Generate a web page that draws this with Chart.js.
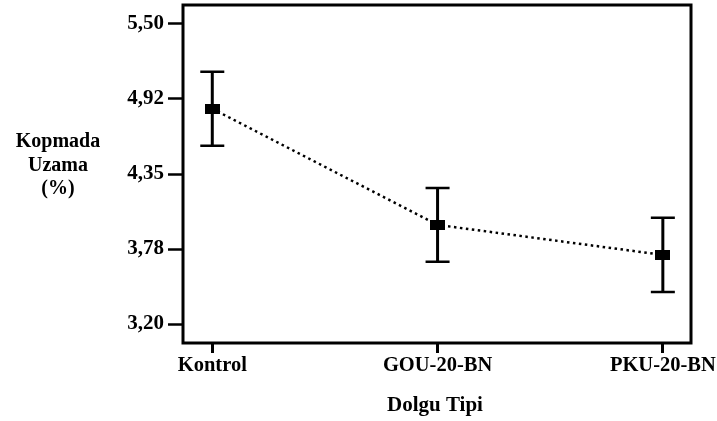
<!DOCTYPE html>
<html>
<head>
<meta charset="utf-8">
<script src="https://cdn.jsdelivr.net/npm/chart.js@4.4.1/dist/chart.umd.min.js"></script>
<style>
  html, body { margin: 0; padding: 0; background: #fff; }
  #wrap { position: relative; width: 717px; height: 421px; }
</style>
</head>
<body>
<div id="wrap"><canvas id="c" width="717" height="421"></canvas></div>
<script>
// Kopmada uzama (%) by filler type: mean with error bar half-width
const categories = ['Kontrol', 'GOU-20-BN', 'PKU-20-BN'];
const means = [4.85, 3.96, 3.73];
const errors = [0.283, 0.283, 0.285];
const yTickValues = [3.20, 3.775, 4.35, 4.925, 5.50];
const yTickLabels = ['3,20', '3,78', '4,35', '4,92', '5,50'];
const yTitleLines = ['Kopmada', 'Uzama', '(%)'];
const xTitle = 'Dolgu Tipi';

const FONT = '"Liberation Serif", "Times New Roman", serif';

// filled rectangular marker
const marker = document.createElement('canvas');
marker.width = 15; marker.height = 10;
(function () {
  const m = marker.getContext('2d');
  m.fillStyle = '#000';
  m.fillRect(0, 0, 15, 10);
})();

const errorBars = {
  id: 'errorBars',
  beforeDatasetsDraw(chart) {
    const { ctx, scales: { x, y } } = chart;
    ctx.save();
    ctx.strokeStyle = '#000';
    ctx.lineCap = 'butt';
    means.forEach((m, i) => {
      const px = x.getPixelForValue(i);
      const top = y.getPixelForValue(m + errors[i]);
      const bot = y.getPixelForValue(m - errors[i]);
      ctx.lineWidth = 3;
      ctx.beginPath();
      ctx.moveTo(px, top);
      ctx.lineTo(px, bot);
      ctx.stroke();
      ctx.lineWidth = 2.5;
      ctx.beginPath();
      ctx.moveTo(px - 12, top); ctx.lineTo(px + 12, top);
      ctx.moveTo(px - 12, bot); ctx.lineTo(px + 12, bot);
      ctx.stroke();
    });
    ctx.restore();
  }
};

const frameAndTitles = {
  id: 'frameAndTitles',
  afterDraw(chart) {
    const { ctx, chartArea: a } = chart;
    ctx.save();
    ctx.strokeStyle = '#000';
    ctx.lineWidth = 3;
    ctx.strokeRect(a.left, a.top, a.right - a.left, a.bottom - a.top);
    ctx.fillStyle = '#000';
    ctx.font = 'bold 20px ' + FONT;
    ctx.textAlign = 'center';
    ctx.textBaseline = 'alphabetic';
    const ys = [147, 171, 194];
    yTitleLines.forEach((t, i) => ctx.fillText(t, 58, ys[i]));
    ctx.font = 'bold 21px ' + FONT;
    ctx.fillText(xTitle, 435, 411);
    ctx.restore();
  }
};

new Chart(document.getElementById('c'), {
  type: 'line',
  data: {
    datasets: [{
      data: means.map((v, i) => ({ x: i, y: v })),
      borderColor: '#000',
      borderWidth: 2.5,
      borderDash: [2.5, 3.5],
      pointStyle: marker,
      pointRadius: 7,
      pointHoverRadius: 7,
      fill: false,
      tension: 0
    }]
  },
  options: {
    responsive: false,
    animation: false,
    events: [],
    layout: { autoPadding: false, padding: { left: 0, right: 26, top: 5, bottom: 0 } },
    plugins: { legend: { display: false }, tooltip: { enabled: false } },
    scales: {
      x: {
        type: 'linear',
        min: -0.13,
        max: 2.125,
        afterBuildTicks(s) { s.ticks = categories.map((_, i) => ({ value: i })); },
        afterFit(s) { s.height = 78; s.paddingLeft = 0; s.paddingRight = 0; },
        border: { display: false },
        grid: { drawOnChartArea: false, tickLength: 10, tickWidth: 3, color: '#000' },
        ticks: {
          autoSkip: false,
          maxRotation: 0,
          padding: 0,
          color: '#000',
          font: { family: FONT, size: 20.5, weight: 'bold' },
          callback: (v) => categories[v]
        }
      },
      y: {
        min: 3.055,
        max: 5.645,
        afterBuildTicks(s) { s.ticks = yTickValues.map(v => ({ value: v })); },
        afterFit(s) { s.width = 183; s.paddingTop = 0; s.paddingBottom = 0; },
        border: { display: false },
        grid: { drawOnChartArea: false, tickLength: 15, tickWidth: 2.5, color: '#000' },
        ticks: {
          padding: 4,
          color: '#000',
          font: { family: FONT, size: 21, weight: 'bold' },
          callback: (v) => yTickLabels[yTickValues.indexOf(v)]
        }
      }
    }
  },
  plugins: [errorBars, frameAndTitles]
});
</script>
</body>
</html>
